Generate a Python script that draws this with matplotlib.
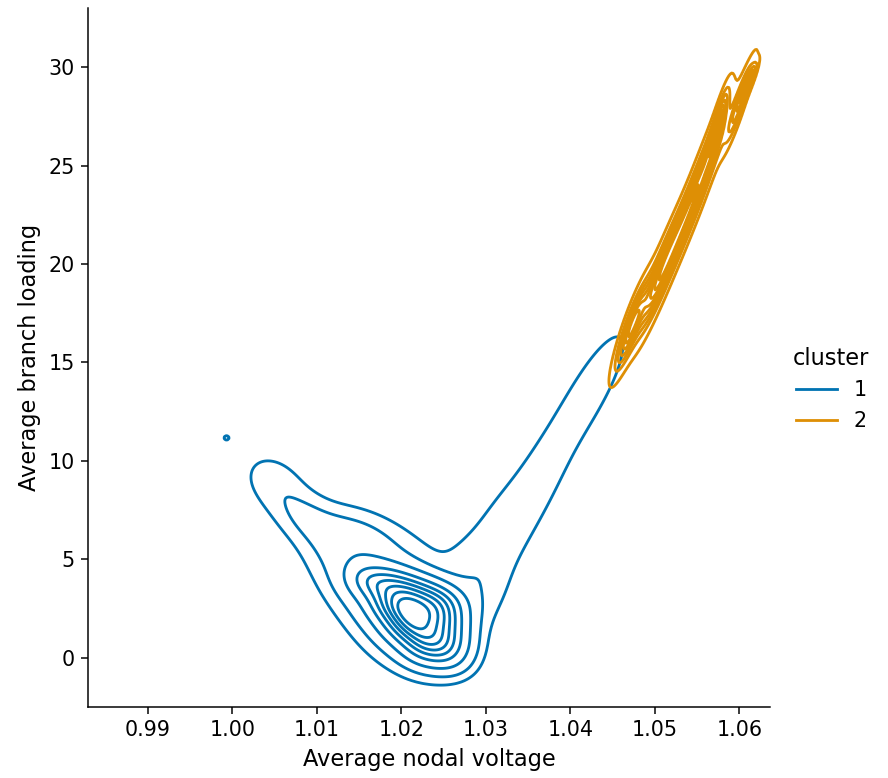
import numpy as np
import matplotlib.pyplot as plt

plt.rcParams['font.family'] = ['DejaVu Sans']

x_label = 'Average nodal voltage'
y_label = 'Average branch loading'
legend_title = 'cluster'
clusters = ['1', '2']
colors = ['#0173b2', '#de8f05']

# density blobs
# centre x, centre y, spread x, spread y, correlation, weight
c1_mx = [1.0160, 1.0185, 1.0210, 1.0235, 1.0255,
         1.0185, 1.0210, 1.0235, 1.0255,
         1.0205, 1.0230, 1.0255,
         1.0225, 1.0250,
         1.0210, 1.0165, 1.0210, 1.0085, 1.0140, 1.0050, 1.0290, 1.0200,
         1.0305, 1.0370, 1.0430, 0.9993]
c1_my = [3.9, 3.8, 3.5, 3.2, 2.8,
         2.7, 2.5, 2.3, 1.9,
         1.6, 1.3, 1.0,
         0.5, 0.3,
         2.2, 3.8, 1.5, 7.2, 6.0, 8.9, 3.6, 5.0,
         5.5, 9.5, 14.0, 11.17]
c1_sx = [0.0017] * 14 + [0.0026, 0.0040, 0.0050, 0.0025, 0.0035, 0.0025, 0.0022, 0.0060,
                         0.0035, 0.0035, 0.0028, 0.0004]
c1_sy = [0.6] * 14 + [1.1, 1.6, 1.9, 0.9, 1.0, 1.0, 1.3, 1.6,
                      2.8, 2.8, 2.0, 0.15]
c1_rho = [-0.2] * 14 + [-0.3, -0.5, -0.3, -0.4, -0.3, -0.3, 0.0, -0.3,
                        0.6, 0.8, 0.8, 0.0]
c1_w = [0.035] * 14 + [0.18, 0.085, 0.06, 0.015, 0.03, 0.014, 0.008, 0.028,
                       0.035, 0.03, 0.02, 0.00025]

c2_mx = [1.0472, 1.0505, 1.0538, 1.0565, 1.0575, 1.0600, 1.0612]
c2_my = [16.8, 19.3, 22.5, 25.6, 27.2, 28.2, 29.3]
c2_sx = [0.0013, 0.0018, 0.0020, 0.0017, 0.0008, 0.0011, 0.0006]
c2_sy = [1.5, 2.0, 2.2, 2.0, 1.2, 1.4, 0.6]
c2_rho = [0.9, 0.92, 0.94, 0.92, 0.9, 0.93, 0.9]
c2_w = [0.15, 0.25, 0.25, 0.15, 0.05, 0.08, 0.02]


def mixture(X, Y, mx, my, sx, sy, rho, w):
    Z = np.zeros_like(X)
    for a, b, s, t, r, k in zip(mx, my, sx, sy, rho, w):
        u = (X - a) / s
        v = (Y - b) / t
        q = (u * u - 2 * r * u * v + v * v) / (1 - r * r)
        Z += k * np.exp(-0.5 * q) / (2 * np.pi * s * t * np.sqrt(1 - r * r))
    return Z


def iso_levels(Z, props):
    vals = np.sort(Z.ravel())[::-1]
    cum = np.cumsum(vals) / vals.sum()
    idx = np.searchsorted(cum, 1 - np.asarray(props))
    return np.unique(np.take(vals, idx, mode='clip'))


gx = np.linspace(0.982, 1.064, 500)
gy = np.linspace(-3, 33, 500)
X, Y = np.meshgrid(gx, gy)

fig = plt.figure(figsize=(888 / 135, 778 / 135), dpi=135)
ax = fig.add_axes([0.099, 0.0913, 0.768, 0.8984])

props = np.linspace(0.05, 1, 10)
params = [(c1_mx, c1_my, c1_sx, c1_sy, c1_rho, c1_w),
          (c2_mx, c2_my, c2_sx, c2_sy, c2_rho, c2_w)]
for p, col, lab in zip(params, colors, clusters):
    Z = mixture(X, Y, *p)
    ax.contour(X, Y, Z, levels=iso_levels(Z, props), colors=col, linewidths=1.5)
    ax.plot([], [], color=col, lw=1.5, label=lab)

ax.set_xlim(0.9829, 1.0636)
ax.set_ylim(-2.5, 33.0)
ax.set_xticks([0.99, 1.00, 1.01, 1.02, 1.03, 1.04, 1.05, 1.06])
ax.set_yticks([0, 5, 10, 15, 20, 25, 30])
ax.set_xlabel(x_label, fontsize=12)
ax.set_ylabel(y_label, fontsize=12)
ax.tick_params(labelsize=11)
ax.spines['top'].set_visible(False)
ax.spines['right'].set_visible(False)

fig.legend(title=legend_title, loc='center right', bbox_to_anchor=(1.0, 0.5),
           frameon=False, fontsize=11, title_fontsize=12)

fig.savefig('out.png', dpi=135)
